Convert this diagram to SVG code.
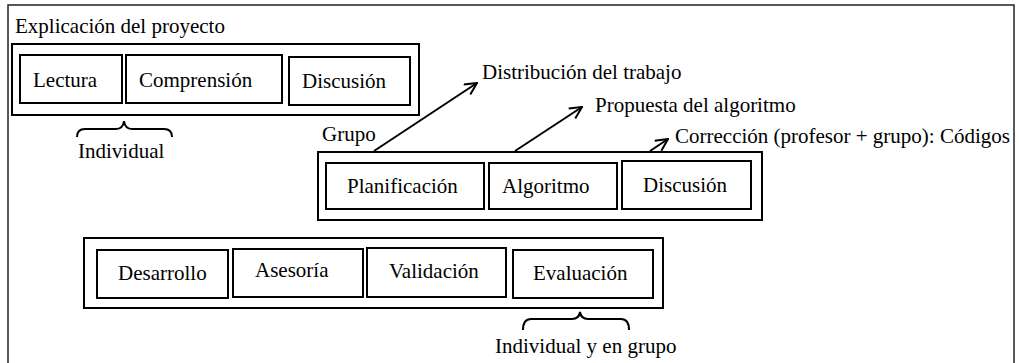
<svg xmlns="http://www.w3.org/2000/svg" width="1019" height="363" viewBox="0 0 1019 363" font-family="'Liberation Serif', 'Times New Roman', Times, serif" font-size="21">
<style>
.b{fill:#fff;stroke:#000;stroke-width:2}
.c{fill:none;stroke:#000;stroke-width:2}
text{font-family:"Liberation Serif","Times New Roman",Times,serif;font-size:21px;fill:#000}
</style>
<defs>
<marker id="ah" viewBox="0 0 14 14" refX="13" refY="7" markerWidth="14" markerHeight="14" markerUnits="userSpaceOnUse" orient="auto">
<path d="M1,1 L13,7 L1,13" fill="none" stroke="#000" stroke-width="2"/>
</marker>
</defs>
<rect x="0" y="0" width="1019" height="363" fill="#fff"/>
<rect id="frame" x="8" y="5" width="1006" height="370" fill="none" stroke="#222" stroke-width="1.5"/>
<text x="15" y="33">Explicación del proyecto</text>
<g id="explicacion">
<rect class="b" x="12" y="44" width="407" height="71"/>
<g id="lectura"><rect class="b" x="20" y="55" width="102" height="48"/><text x="33" y="87">Lectura</text></g>
<g id="comprension"><rect class="b" x="126" y="55" width="156" height="48"/><text x="139" y="87">Comprensión</text></g>
<g id="discusion1"><rect class="b" x="289" y="57" width="121" height="48"/><text x="302" y="88">Discusión</text></g>
</g>
<g id="individual1">
<path class="c" d="M77,137 Q77,129 85,129 L116,129 Q123,129 124,121 Q125,129 132,129 L164,129 Q172,129 172,137"/>
<text x="78" y="158">Individual</text>
</g>
<text x="322" y="141">Grupo</text>
<g id="grupo">
<rect class="b" x="318" y="152" width="444" height="68"/>
<g id="planificacion"><rect class="b" x="326" y="163" width="158" height="46"/><text x="347" y="193">Planificación</text></g>
<g id="algoritmo"><rect class="b" x="489" y="163" width="128" height="46"/><text x="502" y="193">Algoritmo</text></g>
<g id="discusion2"><rect class="b" x="622" y="161" width="129" height="48"/><text x="643" y="192">Discusión</text></g>
</g>
<g id="connectors">
<line class="c" x1="374" y1="151" x2="477" y2="83" marker-end="url(#ah)"/>
<line class="c" x1="515" y1="151" x2="582" y2="107" marker-end="url(#ah)"/>
<line class="c" x1="650" y1="151" x2="668" y2="139" marker-end="url(#ah)"/>
</g>
<text x="482" y="79">Distribución del trabajo</text>
<text x="595" y="112">Propuesta del algoritmo</text>
<text x="675" y="143">Corrección (profesor + grupo): Códigos</text>
<g id="desarrollo-fase">
<rect class="b" x="84" y="238" width="579" height="70"/>
<g id="desarrollo"><rect class="b" x="97" y="250" width="131" height="48"/><text x="118" y="280">Desarrollo</text></g>
<g id="asesoria"><rect class="b" x="233" y="249" width="130" height="48"/><text x="255" y="277">Asesoría</text></g>
<g id="validacion"><rect class="b" x="367" y="248" width="139" height="49"/><text x="389" y="278">Validación</text></g>
<g id="evaluacion"><rect class="b" x="513" y="250" width="140" height="48"/><text x="533" y="280">Evaluación</text></g>
</g>
<g id="individual2">
<path class="c" d="M523,330 Q523,319 531,319 L572,319 Q579,319 580,312 Q581,319 588,319 L621,319 Q629,319 629,330"/>
<text x="495" y="353">Individual y en grupo</text>
</g>
</svg>
